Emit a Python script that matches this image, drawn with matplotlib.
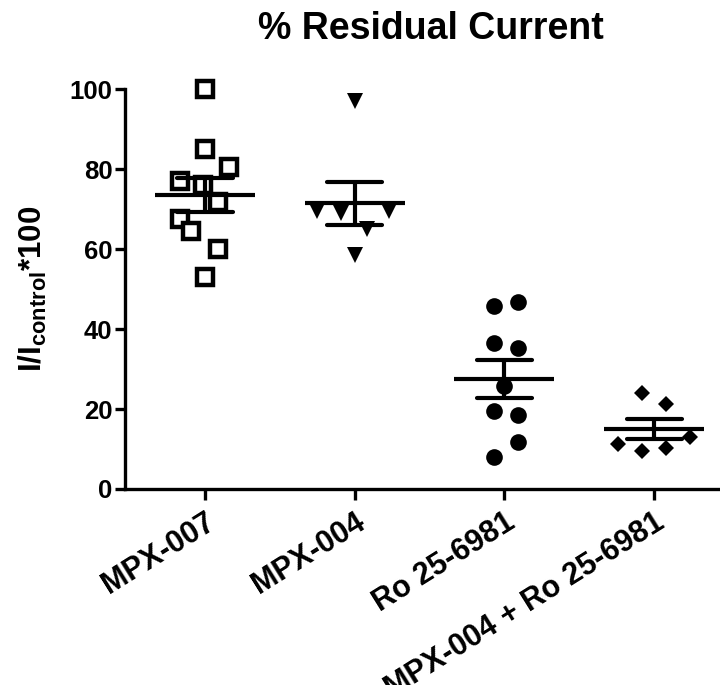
import numpy as np
import matplotlib
matplotlib.use("Agg")
import matplotlib.pyplot as plt

plt.rcParams['font.family'] = ['Liberation Sans', 'DejaVu Sans']
plt.rcParams['font.weight'] = 'bold'
plt.rcParams['mathtext.fontset'] = 'custom'
plt.rcParams['mathtext.rm'] = 'Liberation Sans:bold'
plt.rcParams['mathtext.bf'] = 'Liberation Sans:bold'
plt.rcParams['mathtext.it'] = 'Liberation Sans:bold'

categories = ["MPX-007", "MPX-004", "Ro 25-6981", "MPX-004 + Ro 25-6981"]
mpx007 = [100, 85, 80.4, 77, 76, 71.7, 67.4, 64.4, 60, 53]
mpx004 = [97, 69.5, 69, 69.5, 65, 58.6]
ro = [45.7, 46.7, 36.6, 35.3, 25.8, 19.4, 18.5, 11.8, 8.1]
combo = [24.1, 21.3, 11.3, 9.4, 10.3, 13.1]
# horizontal scatter offsets (as in the reference)
off007 = [0, 0, 0.16, -0.17, -0.01, 0.09, -0.17, -0.09, 0.09, 0]
off004 = [0, -0.25, -0.09, 0.23, 0.08, 0]
offro = [-0.07, 0.09, -0.07, 0.09, 0, -0.07, 0.09, 0.09, -0.07]
offcombo = [-0.08, 0.08, -0.24, -0.08, 0.08, 0.24]
yticks = [0, 20, 40, 60, 80, 100]

groups = [mpx007, mpx004, ro, combo]
offsets = [off007, off004, offro, offcombo]
styles = [
    dict(marker='s', mfc='white', mec='black', ms=11, mew=3.2),
    dict(marker='v', mfc='black', mec='black', ms=11.5, mew=0),
    dict(marker='o', mfc='black', mec='black', ms=12, mew=0),
    dict(marker='D', mfc='black', mec='black', ms=8.5, mew=0),
]

fig = plt.figure(figsize=(7.2, 6.85), dpi=100)
ax = fig.add_axes([125/720, 196/685, 604/720, 400/685])

for i, (vals, offs, st) in enumerate(zip(groups, offsets, styles)):
    xs = i + np.array(offs)
    ax.plot(xs, vals, linestyle='none', zorder=3, clip_on=False, **st)
    m = np.mean(vals)
    sem = np.std(vals, ddof=1) / np.sqrt(len(vals))
    ax.hlines(m, i - 0.334, i + 0.334, color='black', lw=3, zorder=4)
    ax.hlines([m - sem, m + sem], i - 0.184, i + 0.184, color='black', lw=3, zorder=4, capstyle='round')
    ax.vlines(i, m - sem, m + sem, color='black', lw=3, zorder=4)

ax.set_xlim(-0.534, 3.5)
ax.set_ylim(0, 100)
ax.set_yticks(yticks)
ax.set_yticklabels([str(v) for v in yticks], fontsize=18.5, fontweight='bold')
ax.set_xticks(range(len(categories)))
ax.set_xticklabels(categories, fontsize=22, fontweight='bold', rotation=32,
                   ha='right', rotation_mode='anchor')
for s in ['top', 'right']:
    ax.spines[s].set_visible(False)
for s in ['left', 'bottom']:
    ax.spines[s].set_linewidth(2.4)
ax.tick_params(axis='y', length=7, width=2.4, pad=2)
ax.tick_params(axis='x', length=8, width=2.4, pad=5)

ax.set_ylabel(r'I/I$_{\mathbf{control}}$*100', fontsize=22.5, fontweight='bold')
ax.yaxis.set_label_coords(-0.125, 0.5)
fig.text(431/720, 1 - 29/685, '% Residual Current', fontsize=27, fontweight='bold',
         ha='center', va='center')

fig.savefig('out.png', dpi=100)
